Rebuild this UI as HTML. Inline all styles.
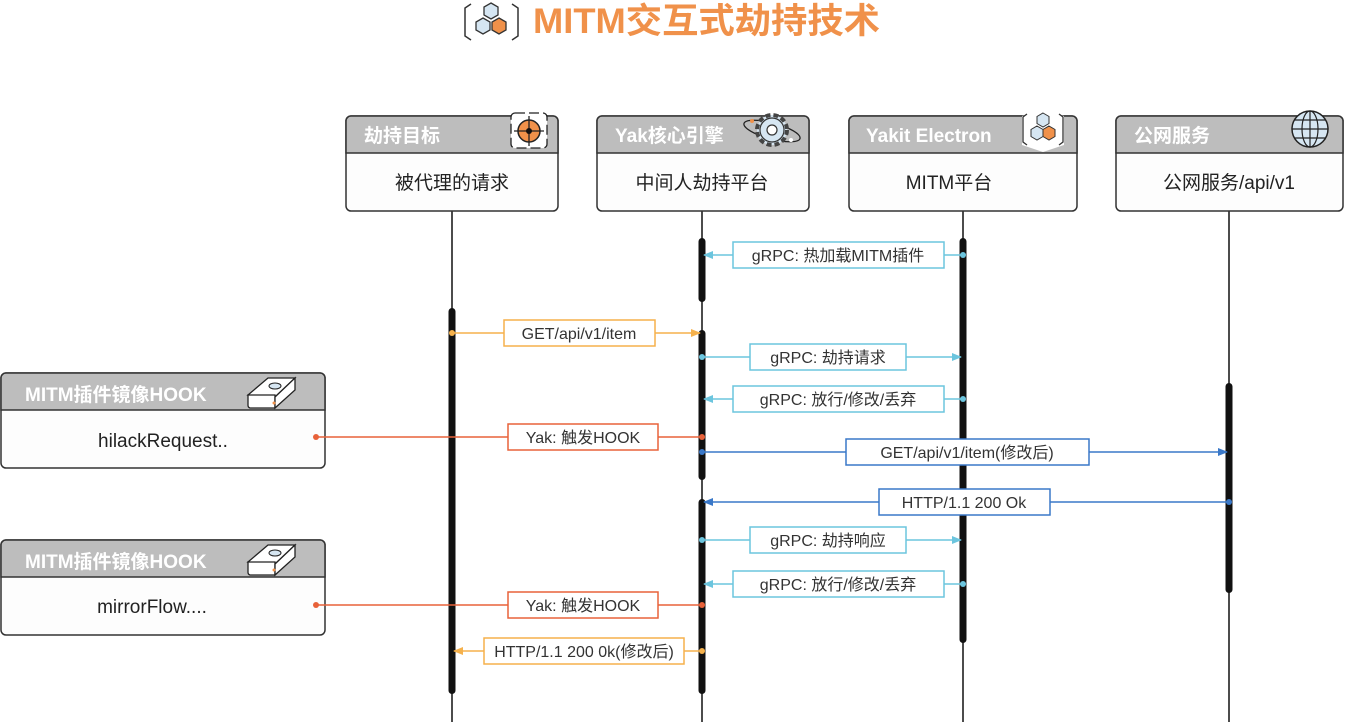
<!DOCTYPE html>
<html><head><meta charset="utf-8"><style>
html,body{margin:0;padding:0;background:#fff;}
svg{display:block;font-family:"Liberation Sans","Noto Sans CJK SC",sans-serif;}
</style></head><body>
<svg width="1345" height="725" viewBox="0 0 1345 725" xmlns="http://www.w3.org/2000/svg">
<defs>
<marker id="ac" markerWidth="10" markerHeight="8" refX="9" refY="4" orient="auto" markerUnits="userSpaceOnUse"><path d="M0,0 L10,4 L0,8 z" fill="#6cc5de"/></marker>
<marker id="ay" markerWidth="10" markerHeight="8" refX="9" refY="4" orient="auto" markerUnits="userSpaceOnUse"><path d="M0,0 L10,4 L0,8 z" fill="#f5b14c"/></marker>
<marker id="ab" markerWidth="10" markerHeight="8" refX="9" refY="4" orient="auto" markerUnits="userSpaceOnUse"><path d="M0,0 L10,4 L0,8 z" fill="#3a78c8"/></marker>
</defs>
<g fill="none" stroke="#333" stroke-width="1.5">
<path d="M471,4 l-6,4 v28 l6,4"/><path d="M512,4 l6,4 v28 l-6,4"/>
</g>
<polygon points="491,3 498,7 498,15 491,19 484,15 484,7" fill="#d6e6f2" stroke="#333" stroke-width="1.3"/>
<polygon points="483,18 490,22 490,30 483,34 476,30 476,22" fill="#d6e6f2" stroke="#333" stroke-width="1.3"/>
<polygon points="499,18 506,22 506,30 499,34 492,30 492,22" fill="#f0914a" stroke="#333" stroke-width="1.3"/>
<text x="533" y="33" font-size="35" font-weight="bold" fill="#f0914a" textLength="347" lengthAdjust="spacingAndGlyphs">MITM交互式劫持技术</text>

<g stroke="#111" stroke-width="1.5">
<line x1="452" y1="211" x2="452" y2="722"/>
<line x1="702" y1="211" x2="702" y2="722"/>
<line x1="963" y1="211" x2="963" y2="722"/>
<line x1="1229" y1="211" x2="1229" y2="722"/>
</g>
<g fill="#111">
<rect x="448.5" y="308" width="7" height="386" rx="3.5"/>
<rect x="698.5" y="238" width="7" height="64" rx="3.5"/>
<rect x="698.5" y="330" width="7" height="150" rx="3.5"/>
<rect x="698.5" y="499" width="7" height="195" rx="3.5"/>
<rect x="959.5" y="238" width="7" height="405" rx="3.5"/>
<rect x="1225.5" y="383" width="7" height="210" rx="3.5"/>
</g>

<g font-size="19">
<g>
<rect x="346" y="116" width="212" height="95" rx="5" fill="#fdfdfd" stroke="#333" stroke-width="1.5"/>
<path d="M346,153 V121 a5,5 0 0 1 5,-5 H553 a5,5 0 0 1 5,5 V153 z" fill="#bdbdbd" stroke="#333" stroke-width="1.5"/>
<text x="364" y="142" fill="#fff" font-weight="bold">劫持目标</text>
<text x="452" y="189" text-anchor="middle" fill="#222">被代理的请求</text>
<rect x="511" y="113" width="36" height="35" rx="4" fill="#fff" stroke="#222" stroke-width="1.3" stroke-dasharray="10,4"/>
<circle cx="529" cy="131" r="11" fill="#f0914a" stroke="#222" stroke-width="1.5"/>
<line x1="529" y1="116" x2="529" y2="146" stroke="#222" stroke-width="1.3"/><line x1="514" y1="131" x2="544" y2="131" stroke="#222" stroke-width="1.3"/>
<circle cx="529" cy="131" r="3" fill="#111"/>
</g>
<g>
<rect x="597" y="116" width="212" height="95" rx="5" fill="#fdfdfd" stroke="#333" stroke-width="1.5"/>
<path d="M597,153 V121 a5,5 0 0 1 5,-5 H804 a5,5 0 0 1 5,5 V153 z" fill="#bdbdbd" stroke="#333" stroke-width="1.5"/>
<text x="615" y="142" fill="#fff" font-weight="bold">Yak核心引擎</text>
<text x="702" y="189" text-anchor="middle" fill="#222">中间人劫持平台</text>
<ellipse cx="772" cy="131" rx="29" ry="8" fill="none" stroke="#222" stroke-width="1.3" transform="rotate(15 772 131)"/>
<circle cx="772" cy="130" r="15" fill="#d6e6f2" stroke="#444" stroke-width="4" stroke-dasharray="5,3"/>
<circle cx="772" cy="130" r="12" fill="#d6e6f2" stroke="#333" stroke-width="1.2"/>
<circle cx="772" cy="130" r="5" fill="#fff" stroke="#333" stroke-width="1.2"/>
<circle cx="752" cy="121" r="2" fill="#f0914a"/><circle cx="791" cy="140" r="2" fill="#fff"/>
</g>
<g>
<rect x="849" y="116" width="228" height="95" rx="5" fill="#fdfdfd" stroke="#333" stroke-width="1.5"/>
<path d="M849,153 V121 a5,5 0 0 1 5,-5 H1072 a5,5 0 0 1 5,5 V153 z" fill="#bdbdbd" stroke="#333" stroke-width="1.5"/>
<text x="866" y="142" fill="#fff" font-weight="bold">Yakit Electron</text>
<text x="949" y="189" text-anchor="middle" fill="#222">MITM平台</text>
<polygon points="1043,110 1064,116 1064,145 1043,152 1022,145 1022,116" fill="#fff"/>
<path d="M1027,114 l-4,3 v25 l4,3 M1059,114 l4,3 v25 l-4,3" fill="none" stroke="#333" stroke-width="1.3"/>
<polygon points="1043,113 1049,116.5 1049,123.5 1043,127 1037,123.5 1037,116.5" fill="#d6e6f2" stroke="#333"/>
<polygon points="1037,126 1043,129.5 1043,136.5 1037,140 1031,136.5 1031,129.5" fill="#d6e6f2" stroke="#333"/>
<polygon points="1049,126 1055,129.5 1055,136.5 1049,140 1043,136.5 1043,129.5" fill="#f0914a" stroke="#333"/>
</g>
<g>
<rect x="1116" y="116" width="227" height="95" rx="5" fill="#fdfdfd" stroke="#333" stroke-width="1.5"/>
<path d="M1116,153 V121 a5,5 0 0 1 5,-5 H1338 a5,5 0 0 1 5,5 V153 z" fill="#bdbdbd" stroke="#333" stroke-width="1.5"/>
<text x="1134" y="142" fill="#fff" font-weight="bold">公网服务</text>
<text x="1229" y="189" text-anchor="middle" fill="#222">公网服务/api/v1</text>
<circle cx="1310" cy="129" r="18" fill="#d6e6f2" stroke="#222" stroke-width="1.5"/>
<ellipse cx="1310" cy="129" rx="8" ry="18" fill="none" stroke="#222" stroke-width="1.2"/>
<line x1="1310" y1="111" x2="1310" y2="147" stroke="#222" stroke-width="1.2"/>
<line x1="1292" y1="129" x2="1328" y2="129" stroke="#222" stroke-width="1.2"/>
<line x1="1295" y1="120" x2="1325" y2="120" stroke="#222" stroke-width="1.2"/>
<line x1="1295" y1="138" x2="1325" y2="138" stroke="#222" stroke-width="1.2"/>
</g>
<g>
<rect x="1" y="373" width="324" height="95" rx="5" fill="#fdfdfd" stroke="#333" stroke-width="1.5"/>
<path d="M1,410 V378 a5,5 0 0 1 5,-5 H320 a5,5 0 0 1 5,5 V410 z" fill="#bdbdbd" stroke="#333" stroke-width="1.5"/>
<text x="25" y="401" fill="#fff" font-weight="bold">MITM插件镜像HOOK</text>
<text x="163" y="447" text-anchor="middle" fill="#222">hilackRequest..</text>
<g transform="translate(70,373)">
<path d="M178,22 L198,5 H225 L205,24 z" fill="#fff" stroke="#222" stroke-width="1.3"/>
<path d="M178,22 H205 V35 H180 a3,3 0 0 1 -2,-3 z" fill="#fff" stroke="#222" stroke-width="1.3"/>
<path d="M205,24 L225,5 V17 L205,35 z" fill="#fff" stroke="#222" stroke-width="1.3"/>
<ellipse cx="205" cy="13" rx="6" ry="3" fill="#d6e6f2" stroke="#222"/>
<circle cx="204" cy="30" r="1.5" fill="#f0914a"/>
</g>
</g>
<g>
<rect x="1" y="540" width="324" height="95" rx="5" fill="#fdfdfd" stroke="#333" stroke-width="1.5"/>
<path d="M1,577 V545 a5,5 0 0 1 5,-5 H320 a5,5 0 0 1 5,5 V577 z" fill="#bdbdbd" stroke="#333" stroke-width="1.5"/>
<text x="25" y="568" fill="#fff" font-weight="bold">MITM插件镜像HOOK</text>
<text x="152" y="613" text-anchor="middle" fill="#222">mirrorFlow....</text>
<g transform="translate(70,540)">
<path d="M178,22 L198,5 H225 L205,24 z" fill="#fff" stroke="#222" stroke-width="1.3"/>
<path d="M178,22 H205 V35 H180 a3,3 0 0 1 -2,-3 z" fill="#fff" stroke="#222" stroke-width="1.3"/>
<path d="M205,24 L225,5 V17 L205,35 z" fill="#fff" stroke="#222" stroke-width="1.3"/>
<ellipse cx="205" cy="13" rx="6" ry="3" fill="#d6e6f2" stroke="#222"/>
<circle cx="204" cy="30" r="1.5" fill="#f0914a"/>
</g>
</g>
</g>

<g font-size="16" fill="#333">
<g stroke="#6cc5de" stroke-width="1.5">
<line x1="963" y1="255" x2="704" y2="255" marker-end="url(#ac)"/>
<line x1="702" y1="357" x2="961" y2="357" marker-end="url(#ac)"/>
<line x1="963" y1="399" x2="704" y2="399" marker-end="url(#ac)"/>
<line x1="702" y1="540" x2="961" y2="540" marker-end="url(#ac)"/>
<line x1="963" y1="584" x2="704" y2="584" marker-end="url(#ac)"/>
</g>
<g fill="#6cc5de"><circle cx="963" cy="255" r="3"/><circle cx="702" cy="357" r="3"/><circle cx="963" cy="399" r="3"/><circle cx="702" cy="540" r="3"/><circle cx="963" cy="584" r="3"/></g>
<g fill="#fff" stroke="#6cc5de" stroke-width="1.5">
<rect x="733" y="242" width="211" height="26"/>
<rect x="750" y="344" width="156" height="26"/>
<rect x="733" y="386" width="211" height="26"/>
<rect x="750" y="527" width="156" height="26"/>
<rect x="733" y="571" width="211" height="26"/>
</g>
<text x="838" y="261" text-anchor="middle">gRPC: 热加载MITM插件</text>
<text x="828" y="363" text-anchor="middle">gRPC: 劫持请求</text>
<text x="838" y="405" text-anchor="middle">gRPC: 放行/修改/丢弃</text>
<text x="828" y="546" text-anchor="middle">gRPC: 劫持响应</text>
<text x="838" y="590" text-anchor="middle">gRPC: 放行/修改/丢弃</text>
<g stroke="#f5b14c" stroke-width="1.5">
<line x1="452" y1="333" x2="700" y2="333" marker-end="url(#ay)"/>
<line x1="702" y1="651" x2="454" y2="651" marker-end="url(#ay)"/>
</g>
<circle cx="452" cy="333" r="3" fill="#f5b14c"/><circle cx="702" cy="651" r="3" fill="#f5b14c"/>
<rect x="504" y="320" width="151" height="26" fill="#fff" stroke="#f5b14c" stroke-width="1.5"/>
<rect x="484" y="638" width="200" height="26" fill="#fff" stroke="#f5b14c" stroke-width="1.5"/>
<text x="579" y="339" text-anchor="middle">GET/api/v1/item</text>
<text x="584" y="657" text-anchor="middle">HTTP/1.1 200 0k(修改后)</text>
<g stroke="#e8623a" stroke-width="1.5">
<line x1="316" y1="437" x2="702" y2="437"/>
<line x1="316" y1="605" x2="702" y2="605"/>
</g>
<g fill="#e8623a"><circle cx="316" cy="437" r="3"/><circle cx="702" cy="437" r="3"/><circle cx="316" cy="605" r="3"/><circle cx="702" cy="605" r="3"/></g>
<rect x="508" y="424" width="150" height="26" fill="#fff" stroke="#e8623a" stroke-width="1.5"/>
<rect x="508" y="592" width="150" height="26" fill="#fff" stroke="#e8623a" stroke-width="1.5"/>
<text x="583" y="443" text-anchor="middle">Yak: 触发HOOK</text>
<text x="583" y="611" text-anchor="middle">Yak: 触发HOOK</text>
<g stroke="#3a78c8" stroke-width="1.5">
<line x1="702" y1="452" x2="1227" y2="452" marker-end="url(#ab)"/>
<line x1="1229" y1="502" x2="704" y2="502" marker-end="url(#ab)"/>
</g>
<g fill="#3a78c8"><circle cx="702" cy="452" r="3"/><circle cx="1229" cy="502" r="3"/></g>
<rect x="846" y="439" width="243" height="26" fill="#fff" stroke="#3a78c8" stroke-width="1.5"/>
<rect x="879" y="489" width="171" height="26" fill="#fff" stroke="#3a78c8" stroke-width="1.5"/>
<text x="967" y="458" text-anchor="middle">GET/api/v1/item(修改后)</text>
<text x="964" y="508" text-anchor="middle">HTTP/1.1 200 Ok</text>
</g>
</svg>
</body></html>
